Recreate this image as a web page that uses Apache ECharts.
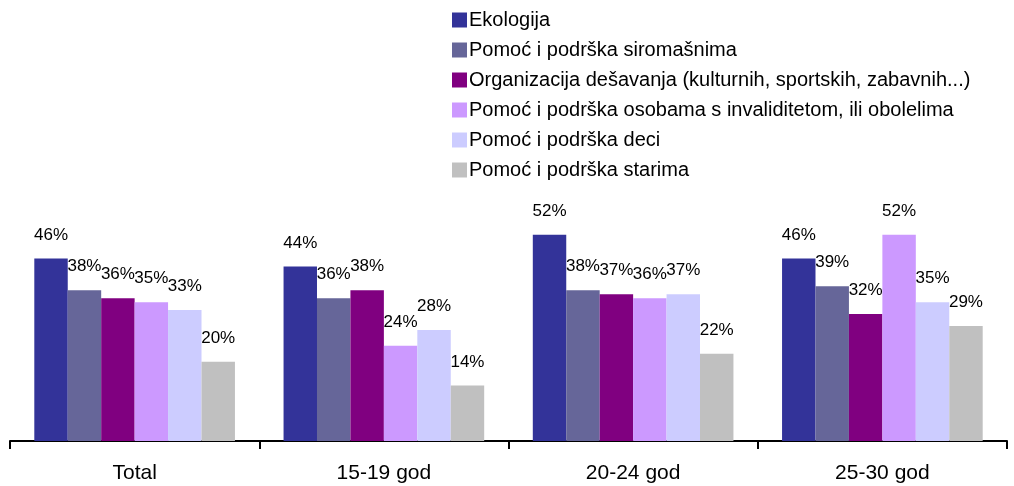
<!DOCTYPE html>
<html>
<head>
<meta charset="utf-8">
<script src="https://cdn.jsdelivr.net/npm/echarts@6/dist/echarts.min.js"></script>
<style>
  html, body { margin: 0; padding: 0; background: #fff; }
  #chart { width: 1014px; height: 486px; }
</style>
</head>
<body>
<div id="chart"></div>
<script>
const categories = ['Total', '15-19 god', '20-24 god', '25-30 god']
const seriesNames = [
  'Ekologija',
  'Pomoć i podrška siromašnima',
  'Organizacija dešavanja (kulturnih, sportskih, zabavnih...)',
  'Pomoć i podrška osobama s invaliditetom, ili obolelima',
  'Pomoć i podrška deci',
  'Pomoć i podrška starima'
]
const ekologija = [46, 44, 52, 46]
const siromasni = [38, 36, 38, 39]
const desavanja = [36, 38, 37, 32]
const invaliditet = [35, 24, 36, 52]
const deca = [33, 28, 37, 35]
const stari = [20, 14, 22, 29]
const colors = ['#333399', '#666699', '#800080', '#cc99ff', '#ccccff', '#c0c0c0']

const values = [ekologija, siromasni, desavanja, invaliditet, deca, stari]
const font = 'Liberation Sans, Arial, sans-serif'

let myChart = echarts.init(document.getElementById('chart'))
myChart.setOption({
  animation: false,
  textStyle: { fontFamily: font },
  legend: {
    orient: 'vertical',
    left: 447,
    top: 5,
    itemWidth: 15,
    itemHeight: 15,
    itemGap: 10,
    icon: 'rect',
    textStyle: { color: '#000', fontSize: 20, fontFamily: font, padding: [0, 0, 0, -3] },
    data: seriesNames
  },
  grid: {
    left: 10,
    right: 7,
    top: 203,
    bottom: 45,
    containLabel: false
  },
  xAxis: {
    type: 'category',
    data: categories,
    axisLine: { lineStyle: { color: '#000', width: 2 } },
    axisTick: { show: true, length: 8, lineStyle: { color: '#000', width: 2 } },
    axisLabel: { color: '#000', fontSize: 21, margin: 22, fontFamily: font }
  },
  yAxis: {
    type: 'value',
    min: 0,
    max: 60,
    show: false,
    splitLine: { show: false }
  },
  series: values.map((v, i) => ({
    name: seriesNames[i],
    type: 'bar',
    data: v,
    barGap: '0%',
    barCategoryGap: '19.5%',
    itemStyle: { color: colors[i] },
    label: {
      show: true,
      position: 'top',
      distance: 15,
      formatter: '{c}%',
      color: '#000',
      fontSize: 17,
      fontFamily: font
    }
  }))
})
window.onresize = function() {
  myChart.resize()
}
</script>
</body>
</html>
